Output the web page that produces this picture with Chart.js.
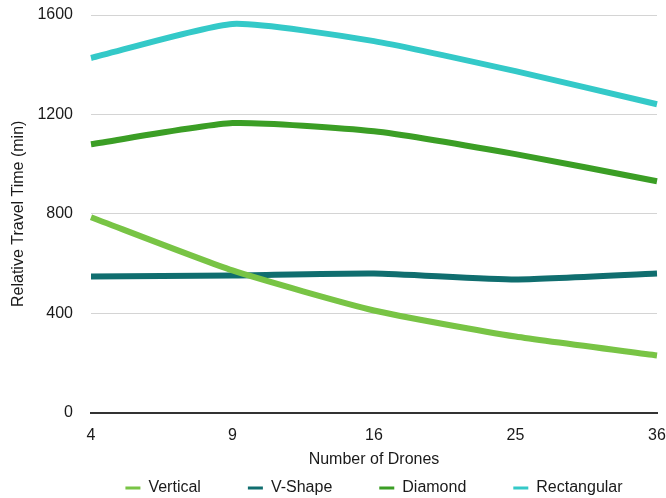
<!DOCTYPE html>
<html>
<head>
<meta charset="utf-8">
<script src="https://cdn.jsdelivr.net/npm/chart.js@4/dist/chart.umd.min.js"></script>
<style>
  html, body { margin: 0; padding: 0; background: #fff; }
  #wrap { width: 666px; height: 498px; }
</style>
</head>
<body>
<div id="wrap"><canvas id="c" width="666" height="498"></canvas></div>
<script>
// Number of drones on the x axis
const drones = ['4', '9', '16', '25', '36'];

// Relative travel time (min) per formation
const vertical    = [786, 572, 411, 306, 230];
const vShape      = [548, 552, 560, 536, 560];
const diamond     = [1080, 1165, 1132, 1040, 931];
const rectangular = [1427, 1564, 1495, 1374, 1241];

const yTicks = [0, 400, 800, 1200, 1600];

const font = { family: '"Liberation Sans", Arial, Helvetica, sans-serif', size: 16 };
const ink = '#1a1a1a';

function series(label, data, color) {
  return {
    label, data,
    borderColor: color,
    backgroundColor: color,
    borderWidth: 6,
    pointRadius: 0,
    tension: 0.18,
    fill: false
  };
}

// Legend: wide gaps between entries, compact row height,
// row centred under the plot area.
const LEGEND_H = 20;
const compactLegend = {
  id: 'compactLegend',
  beforeInit(chart) {
    const legend = chart.legend;
    if (!legend) return;
    const fit = legend.fit;
    legend.fit = function () {
      fit.call(this);
      this.height = LEGEND_H;
      if (this.minSize) this.minSize.height = LEGEND_H;
    };
    const draw = legend.draw;
    legend.draw = function () {
      const pad = this.options.labels.padding;
      const size = this.options.labels.font.size;
      const area = chart.chartArea;
      const dx = (area.left + area.right) / 2 - (this.left + this.right) / 2;
      const dy = LEGEND_H / 2 - pad - size / 2;
      const saved = { top: this.top, left: this.left, right: this.right };
      this.top += dy;
      this.left += dx;
      this.right += dx;
      draw.call(this);
      Object.assign(this, saved);
    };
  }
};

new Chart(document.getElementById('c'), {
  type: 'line',
  data: {
    labels: drones,
    datasets: [
      series('Vertical', vertical, '#78c445'),
      series('V-Shape', vShape, '#106e6f'),
      series('Diamond', diamond, '#3b9e25'),
      series('Rectangular', rectangular, '#34c9c8')
    ]
  },
  plugins: [compactLegend],
  options: {
    responsive: false,
    animation: false,
    layout: { padding: { left: 0, right: 9, top: 0, bottom: 0 } },
    plugins: {
      tooltip: { enabled: false },
      legend: {
        position: 'bottom',
        labels: {
          font, color: ink,
          boxWidth: 15, boxHeight: 3,
          padding: 47,
          generateLabels: chart =>
            Chart.defaults.plugins.legend.labels.generateLabels(chart)
              .map(item => Object.assign(item, { lineWidth: 0 }))
        }
      }
    },
    scales: {
      x: {
        type: 'category',
        offset: false,
        afterFit: axis => { axis.paddingRight = 9; axis.paddingLeft = 5; },
        grid: { display: false },
        border: { display: true, color: '#333', width: 2 },
        ticks: { font, color: ink, padding: 5, maxRotation: 0 },
        title: { display: true, text: 'Number of Drones', font, color: ink, padding: { top: 0, bottom: 9 } }
      },
      y: {
        min: 0, max: 1600,
        afterBuildTicks: axis => { axis.ticks = yTicks.map(v => ({ value: v })); },
        afterFit: axis => { axis.width = 91; axis.paddingTop = 15; },
        grid: { color: '#d4d4d4', lineWidth: 1, drawTicks: false },
        border: { display: false },
        ticks: { font, color: ink, padding: 18, callback: v => String(v) },
        title: { display: true, text: 'Relative Travel Time (min)', font, color: ink, padding: { top: 9, bottom: 9 } }
      }
    }
  }
});
</script>
</body>
</html>
